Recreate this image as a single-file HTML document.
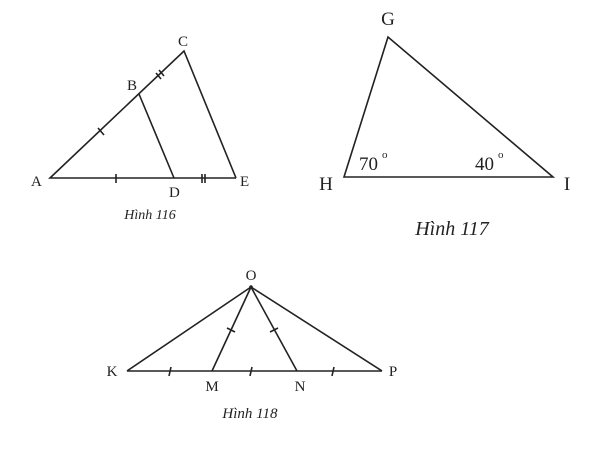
<!DOCTYPE html>
<html><head><style>html,body{margin:0;padding:0;background:#fff}</style></head>
<body>
<svg width="600" height="450" viewBox="0 0 600 450" xmlns="http://www.w3.org/2000/svg" font-family="Liberation Serif, serif" fill="#222">
<g stroke="#222" stroke-width="1.6" fill="none">
<!-- Fig 116 -->
<polyline points="236,178 50,178 184,51 236,178"/>
<line x1="139" y1="94" x2="174" y2="178"/>
<line x1="116" y1="174" x2="116" y2="183"/>
<line x1="202" y1="174" x2="202" y2="183"/>
<line x1="205" y1="174" x2="205" y2="183"/>
<line x1="98" y1="128" x2="104" y2="135"/>
<line x1="156" y1="73" x2="161" y2="79"/>
<line x1="159" y1="70" x2="164" y2="76"/>
<!-- Fig 117 -->
<polygon points="388,37 344,177 553,177"/>
<!-- Fig 118 -->
<line x1="127" y1="371" x2="382" y2="371"/>
<line x1="251" y1="287" x2="127" y2="371"/>
<line x1="251" y1="287" x2="382" y2="371"/>
<line x1="251" y1="287" x2="212" y2="371"/>
<line x1="251" y1="287" x2="297" y2="371"/>
<line x1="171" y1="367" x2="169" y2="376"/>
<line x1="252" y1="367" x2="250" y2="376"/>
<line x1="334" y1="367" x2="332" y2="376"/>
<line x1="227" y1="328" x2="235" y2="332"/>
<line x1="270" y1="332" x2="278" y2="328"/>
</g>
<circle cx="251" cy="287" r="1.8"/>
<g font-size="15">
<text x="31" y="186">A</text>
<text x="127" y="90">B</text>
<text x="178" y="46">C</text>
<text x="169" y="197">D</text>
<text x="240" y="186">E</text>
<text x="150" y="219" text-anchor="middle" font-style="italic" font-size="14">Hình 116</text>
</g>
<g font-size="19">
<text x="388" y="25" text-anchor="middle">G</text>
<text x="326" y="190" text-anchor="middle">H</text>
<text x="567" y="190" text-anchor="middle">I</text>
<text x="359" y="170">70</text>
<text x="382" y="158" font-size="11">o</text>
<text x="475" y="170">40</text>
<text x="498" y="158" font-size="11">o</text>
<text x="452" y="235" text-anchor="middle" font-style="italic" font-size="20">Hình 117</text>
</g>
<g font-size="15">
<text x="251" y="280" text-anchor="middle">O</text>
<text x="112" y="376" text-anchor="middle">K</text>
<text x="393" y="376" text-anchor="middle">P</text>
<text x="212" y="391" text-anchor="middle">M</text>
<text x="300" y="391" text-anchor="middle">N</text>
<text x="250" y="418" text-anchor="middle" font-style="italic" font-size="15">Hình 118</text>
</g>
</svg>
</body></html>
